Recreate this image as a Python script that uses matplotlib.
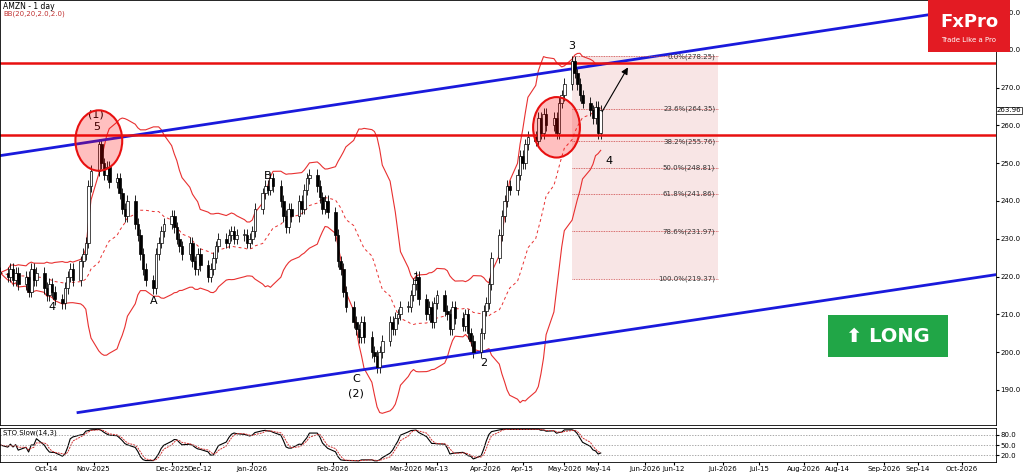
import numpy as np
import pandas as pd
import matplotlib.pyplot as plt
import matplotlib.dates as mdates
from matplotlib.patches import Ellipse, Rectangle

# daily closes, Sep 26 2025 .. May 15 2026 (weekdays)
closes = (
    [221, 220, 222] +
    [219, 221, 218, 220, 216, 222, 219, 221, 217, 215, 218, 216, 214, 213, 217, 220, 222, 219, 224, 226, 229, 244, 248] +
    [255, 250, 247, 249, 245, 246, 242, 238, 236, 240, 234, 231, 226, 222, 219, 217, 226, 229, 232, 234] +
    [236, 233, 230, 228, 226, 229, 224, 222, 226, 223, 220, 222, 225, 228, 230, 229, 231, 232, 230, 231, 231, 229, 230] +
    [232, 238, 242, 244, 243, 246, 244, 240, 236, 233, 238, 236, 240, 238, 243, 246, 247, 244, 241, 238, 240, 237] +
    [231, 224, 222, 216, 212, 208, 206, 204, 208, 204, 200, 199, 196, 200, 203, 208, 206, 209, 210, 212] +
    [212, 215, 218, 220, 214, 210, 212, 208, 213, 215, 211, 210, 206, 212, 209, 207, 210, 205, 203, 200, 205, 211] +
    [213, 218, 225, 231, 236, 240, 244, 243, 247, 252, 250, 255, 257, 256, 262, 258, 263, 260, 262, 258, 266, 268] +
    [271, 277, 274, 271, 268, 266, 264, 262, 265, 258, 264]
)
dates = pd.bdate_range("2025-09-26", periods=len(closes))

fib_levels = [278.25, 264.35, 255.76, 248.81, 241.86, 231.97, 219.37]
fib_names = ["0.0%", "23.6%", "38.2%", "50.0%", "61.8%", "78.6%", "100.0%"]
price_ticks = [190, 200, 210, 220, 230, 240, 250, 260, 270, 280, 290]
tick_dates = ["2025-10-14", "2025-11-01", "2025-12-01", "2025-12-12", "2026-01-01", "2026-02-01",
              "2026-03-01", "2026-03-13", "2026-04-01", "2026-04-15", "2026-05-01", "2026-05-14",
              "2026-06-01", "2026-06-12", "2026-07-01", "2026-07-15", "2026-08-01", "2026-08-14",
              "2026-09-01", "2026-09-14", "2026-10-01"]
tick_labels = ["Oct-14", "Nov-2025", "Dec-2025", "Dec-12", "Jan-2026", "Feb-2026", "Mar-2026", "Mar-13",
               "Apr-2026", "Apr-15", "May-2026", "May-14", "Jun-2026", "Jun-12", "Jul-2026", "Jul-15",
               "Aug-2026", "Aug-14", "Sep-2026", "Sep-14", "Oct-2026"]

c = pd.Series(closes, index=dates, dtype=float)
o = c.shift(1).fillna(c.iloc[0])
hi = np.maximum(o, c) + 1.5
lo = np.minimum(o, c) - 1.5
mid = c.rolling(20, min_periods=1).mean()
sd = c.rolling(20, min_periods=2).std().fillna(0)
up, dn = mid + 2 * sd, mid - 2 * sd
hh = hi.rolling(14, min_periods=1).max()
ll = lo.rolling(14, min_periods=1).min()
k = (100 * (c - ll) / (hh - ll)).rolling(3, min_periods=1).mean()
d = k.rolling(3, min_periods=1).mean()

W, H = 1024, 474
fig = plt.figure(figsize=(W / 100, H / 100), dpi=100)
ax = fig.add_axes([0, 1 - 425 / H, 996 / W, 425 / H])
ax2 = fig.add_axes([0, 12 / H, 996 / W, 34 / H], sharex=ax)

x0 = pd.Timestamp("2025-09-26")
xmax = x0 + pd.Timedelta(days=383)
ax.set_xlim(x0, xmax)
ax.set_ylim(180.7, 293.2)

# bollinger
ax.plot(dates, up, color="#e83030", lw=0.8)
ax.plot(dates, dn, color="#e83030", lw=0.8)
ax.plot(dates, mid, color="#e83030", lw=0.7, ls=(0, (3, 3)))

# candles
xs = mdates.date2num(dates)
for xi, oo, cc, h, l in zip(xs, o, c, hi, lo):
    ax.vlines(xi, l, h, color="black", lw=0.6)
    col = "white" if cc >= oo else "black"
    ax.add_patch(Rectangle((xi - 0.5, min(oo, cc)), 1.0, max(abs(cc - oo), 0.3),
                           facecolor=col, edgecolor="black", lw=0.5, zorder=3))

# channel
xa, xb = mdates.date2num(x0), mdates.date2num(xmax)
ax.plot([xa, xb], [252, 292], color="#1a1adc", lw=2)
ax.plot([xa + 30, xb], [184, 220.5], color="#1a1adc", lw=2)
for lvl in [276.5, 257.5]:
    ax.axhline(lvl, color="#e81010", lw=1.8)

# circles
for dt, pr in [("2025-11-03", 256), ("2026-04-28", 259.5)]:
    ax.add_patch(Ellipse((mdates.date2num(pd.Timestamp(dt)), pr), 18, 16, facecolor="#ff000040",
                         edgecolor="#e81010", lw=1.5, zorder=4))

# fib box
fa = mdates.date2num(pd.Timestamp("2026-05-04"))
fb = mdates.date2num(pd.Timestamp("2026-06-29"))
ax.add_patch(Rectangle((fa, fib_levels[-1]), fb - fa, fib_levels[0] - fib_levels[-1],
                       facecolor="#f4d4d4", alpha=0.6, edgecolor="none", zorder=1))
for lv, nm in zip(fib_levels, fib_names):
    ax.plot([fa, fb], [lv, lv], color="#cc4444", lw=0.6, ls=(0, (1, 1)))
    ax.text(fb - 1, lv, f"{nm}({lv:.2f})", fontsize=5, ha="right", va="center", color="#333")

ax.annotate("", xy=(mdates.date2num(pd.Timestamp("2026-05-26")), 276),
            xytext=(mdates.date2num(pd.Timestamp("2026-05-15")), 263),
            arrowprops=dict(arrowstyle="-|>", color="black", lw=0.8))

# wave labels
waves = [("2025-11-02", 263, "(1)"), ("2025-11-02", 259.5, "5"), ("2025-10-16", 212, "4"),
         ("2025-11-24", 213.5, "A"), ("2026-01-07", 246.5, "B"), ("2026-02-10", 193, "C"),
         ("2026-02-10", 189, "(2)"), ("2026-03-05", 219.5, "1"), ("2026-03-31", 197, "2"),
         ("2026-05-04", 281, "3"), ("2026-05-18", 250.5, "4")]
for dt, pr, t in waves:
    ax.text(pd.Timestamp(dt), pr, t, fontsize=8, ha="center", va="center")

ax.text(0.003, 0.995, "AMZN - 1 day", transform=ax.transAxes, fontsize=5.5, va="top")
ax.text(0.003, 0.975, "BB(20,20,2.0,2.0)", transform=ax.transAxes, fontsize=5, va="top", color="#c03030")

# right price axis
ax.yaxis.tick_right()
ax.set_yticks(price_ticks)
ax.set_yticklabels([f"{p:.1f}" for p in price_ticks], fontsize=5)
ax.tick_params(axis="y", length=2, pad=1)
ax.text(1.001, 263.96, "263.96", transform=ax.get_yaxis_transform(), fontsize=5, va="center",
        bbox=dict(facecolor="white", edgecolor="black", lw=0.5, pad=0.5))
ax.tick_params(axis="x", labelbottom=False, length=0)

# LONG badge
ax.add_patch(Rectangle((828 / 996, 1 - 357 / 425), 120 / 996, 42 / 425, transform=ax.transAxes,
                       facecolor="#21a647", edgecolor="none", zorder=5))
ax.text(888 / 996, 1 - 336 / 425, "\u2b06 LONG", transform=ax.transAxes, color="white",
        fontsize=14, fontweight="bold", ha="center", va="center", zorder=6)

# logo
fig.patches.append(Rectangle((928 / W, 1 - 52 / H), 82 / W, 52 / H, transform=fig.transFigure,
                             facecolor="#e31b23", edgecolor="none"))
fig.text(969 / W, 1 - 22 / H, "FxPro", color="white", fontsize=13, fontweight="bold", ha="center", va="center")
fig.text(969 / W, 1 - 40 / H, "Trade Like a Pro", color="white", fontsize=5, ha="center", va="center")

# stochastic
ax2.plot(dates, k, color="black", lw=0.8)
ax2.plot(dates, d, color="#d03030", lw=0.7, ls=(0, (2, 1)))
ax2.set_ylim(0, 100)
for lv in [20, 50, 80]:
    ax2.axhline(lv, color="#888", lw=0.5, ls=(0, (2, 2)))
ax2.yaxis.tick_right()
ax2.set_yticks([20, 50, 80])
ax2.set_yticklabels(["20.0", "50.0", "80.0"], fontsize=5)
ax2.tick_params(axis="y", length=2, pad=1)
ax2.text(0.003, 0.95, "STO Slow(14,3)", transform=ax2.transAxes, fontsize=5, va="top")
ax2.set_xticks([pd.Timestamp(t) for t in tick_dates])
ax2.set_xticklabels(tick_labels, fontsize=5)
ax2.tick_params(axis="x", length=2, pad=1)
for a in (ax, ax2):
    for s in a.spines.values():
        s.set_linewidth(0.6)

fig.savefig("out.png", dpi=100)
